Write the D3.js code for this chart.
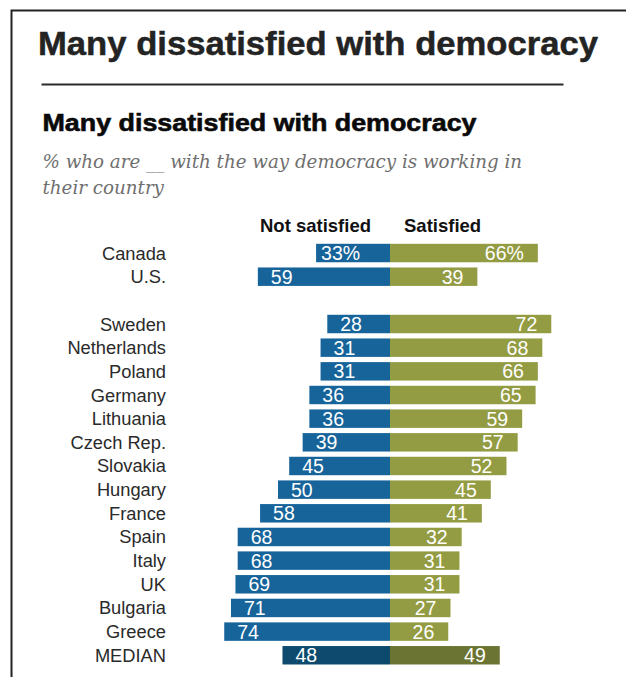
<!DOCTYPE html>
<html>
<head>
<meta charset="utf-8">
<script src="https://cdn.jsdelivr.net/npm/d3@7"></script>
<style>
  html, body { margin: 0; padding: 0; background: #fff; }
  svg { display: block; }
  .label { font-family: "Liberation Sans", Arial, sans-serif; font-size: 18.3px; fill: #2a2a2a; }
  .value { font-family: "Liberation Sans", Arial, sans-serif; font-size: 19.5px; fill: #fff; }
  .head { font-family: "Liberation Sans", Arial, sans-serif; font-size: 18.5px; font-weight: bold; fill: #111; }
</style>
</head>
<body>
<svg id="chart" width="626" height="677"></svg>
<script>
// rows in display order; "" is the blank spacer row
var countries = ['Canada', 'U.S.', '', 'Sweden', 'Netherlands', 'Poland', 'Germany',
  'Lithuania', 'Czech Rep.', 'Slovakia', 'Hungary', 'France', 'Spain', 'Italy',
  'UK', 'Bulgaria', 'Greece', 'MEDIAN'];
var notSatisfied = [33, 59, null, 28, 31, 31, 36, 36, 39, 45, 50, 58, 68, 68, 69, 71, 74, 48];
var satisfied = [66, 39, null, 72, 68, 66, 65, 59, 57, 52, 45, 41, 32, 31, 31, 27, 26, 49];
var seriesNames = ['Not satisfied', 'Satisfied'];

var title = 'Many dissatisfied with democracy';
var subtitle = ['% who are __ with the way democracy is working in', 'their country'];

var colors = {
  not: '#17649b', sat: '#949c43',
  notMedian: '#0d4a6e', satMedian: '#6c7433'
};

var svg = d3.select('#chart');
var axisX = 390;

var rows = countries.map(function(c, i) {
  return { name: c, not: notSatisfied[i], sat: satisfied[i], key: 'r' + i };
}).filter(function(d) { return d.name !== ''; });

var y = d3.scaleBand()
  .domain(countries.map(function(c, i) { return 'r' + i; }))
  .range([241.2, 667.1])
  .paddingInner(0.22)
  .paddingOuter(0.11);

var x = d3.scaleLinear().domain([0, 100]).range([0, 224]);

// frame (top + left edges)
svg.append('path')
  .attr('d', 'M11.5,700 V10.5 H640')
  .attr('fill', 'none')
  .attr('stroke', '#222')
  .attr('stroke-width', 2);

// outer title
svg.append('text')
  .attr('x', 38).attr('y', 55)
  .attr('textLength', 560)
  .attr('lengthAdjust', 'spacingAndGlyphs')
  .style('font-family', '"Liberation Sans", Arial, sans-serif')
  .style('font-size', '34px')
  .style('font-weight', 'bold')
  .style('fill', '#232323')
  .style('stroke', '#232323')
  .style('stroke-width', 0.5)
  .text(title);

svg.append('line')
  .attr('x1', 41.5).attr('x2', 563.5)
  .attr('y1', 84.5).attr('y2', 84.5)
  .attr('stroke', '#2a2a2a')
  .attr('stroke-width', 2);

// inner title
svg.append('text')
  .attr('x', 42.5).attr('y', 131)
  .attr('textLength', 434)
  .attr('lengthAdjust', 'spacingAndGlyphs')
  .style('font-family', '"Liberation Sans", Arial, sans-serif')
  .style('font-size', '24px')
  .style('font-weight', 'bold')
  .style('fill', '#0a0a0a')
  .style('stroke', '#0a0a0a')
  .style('stroke-width', 0.6)
  .text(title);

// italic subtitle, font size fitted to the first line's width
var sub = svg.append('g')
  .style('font-family', '"DejaVu Serif", Georgia, serif')
  .style('font-style', 'italic')
  .style('font-size', '16px')
  .style('fill', '#6f6f6f');
var subLines = sub.selectAll('text').data(subtitle).enter().append('text')
  .attr('x', 42.5)
  .attr('y', function(d, i) { return 168 + i * 26; })
  .text(function(d) { return d; });
var w1 = subLines.node().getComputedTextLength();
sub.style('font-size', (16 * 480 / w1) + 'px');

// column headers
svg.append('text').attr('class', 'head')
  .attr('x', axisX - 19).attr('y', 231.5)
  .attr('text-anchor', 'end')
  .text(seriesNames[0]);
svg.append('text').attr('class', 'head')
  .attr('x', axisX + 14).attr('y', 231.5)
  .text(seriesNames[1]);

var rowSel = svg.selectAll('.row').data(rows).enter().append('g')
  .attr('class', 'row')
  .attr('transform', function(d) { return 'translate(0,' + y(d.key) + ')'; });

var bh = y.bandwidth();

rowSel.append('rect')
  .attr('x', function(d) { return axisX - x(d.not); })
  .attr('width', function(d) { return x(d.not); })
  .attr('height', bh)
  .attr('fill', function(d) { return d.name === 'MEDIAN' ? colors.notMedian : colors.not; });

rowSel.append('rect')
  .attr('x', axisX)
  .attr('width', function(d) { return x(d.sat); })
  .attr('height', bh)
  .attr('fill', function(d) { return d.name === 'MEDIAN' ? colors.satMedian : colors.sat; });

rowSel.append('text').attr('class', 'label')
  .attr('x', 166)
  .attr('y', bh / 2 + 6.5)
  .attr('text-anchor', 'end')
  .text(function(d) { return d.name; });

// first row carries the % sign
rowSel.append('text').attr('class', 'value')
  .attr('x', function(d, i) { return axisX - x(d.not) + (i === 0 ? 5 : 13); })
  .attr('y', bh / 2 + 7)
  .text(function(d, i) { return d.not + (i === 0 ? '%' : ''); });

rowSel.append('text').attr('class', 'value')
  .attr('x', function(d) { return axisX + x(d.sat) - 14; })
  .attr('y', bh / 2 + 7)
  .attr('text-anchor', 'end')
  .text(function(d, i) { return d.sat + (i === 0 ? '%' : ''); });
</script>
</body>
</html>
